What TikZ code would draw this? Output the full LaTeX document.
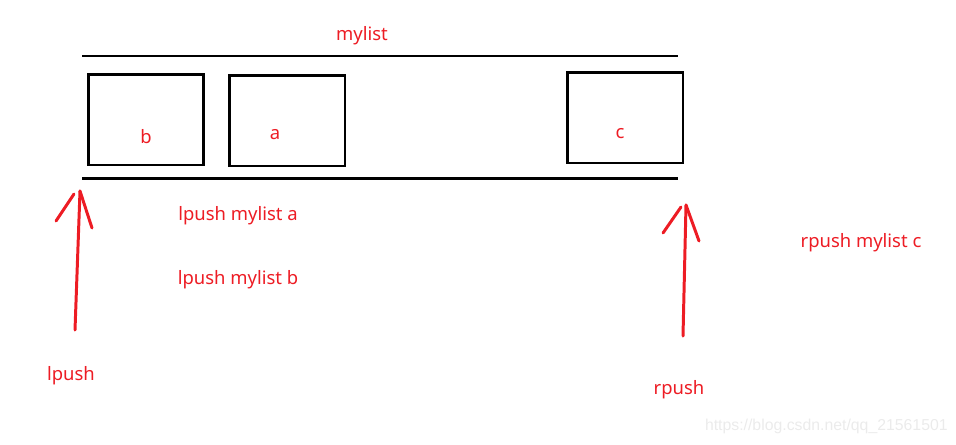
\documentclass[tikz,border=0pt]{standalone}
\usepackage{fontspec}
\setmainfont{Noto Sans}
\newfontfamily\markfont{Liberation Sans}
\usetikzlibrary{calc}
\definecolor{paintred}{RGB}{237,28,36}

\begin{document}
\begin{tikzpicture}[x=0.02cm,y=-0.02cm,
    txt/.style={text=paintred, font=\fontsize{10.5}{12}\selectfont, inner sep=0pt},
    cell/.style={draw=black, line width=1.7pt, minimum width=2.32cm, minimum height=1.82cm, inner sep=0pt},
    rail/.style={black, line width=1.7pt},
    pen/.style={paintred, line width=1.7pt, line cap=round}]
            \useasboundingbox (0,0) rectangle (956,444);

            % List title
            \node[txt] (title) at (362,36) {mylist};

            % Rails of the list
            \coordinate (topl) at (82,56);
            \coordinate (topr) at (678,56);
            \coordinate (botl) at (82,178);
            \coordinate (botr) at (678,178);
            \draw[rail] (topl) -- (topr);
            \draw[rail] (botl) -- (botr);

            % Elements
            \node[cell] (bbox) at (146,119.5) {};
            \node[cell] (abox) at (287,120.5) {};
            \node[cell] (cbox) at (625,117.5) {};
            \node[txt] (blbl) at ($(bbox.center)+(0,17)$) {b};
            \node[txt] (albl) at ($(abox.center)+(-12,14)$) {a};
            \node[txt] (clbl) at ($(cbox.center)+(-5,16)$) {c};

            % Commands
            \node[txt] (cmda) at (238,216) {lpush mylist a};
            \node[txt] (cmdb) at (238,280) {lpush mylist b};
            \node[txt] (cmdc) at (861,243) {rpush mylist c};

            % Left push arrow
            \coordinate (ltail) at (75,330);
            \coordinate (ltip) at (80,191);
            \coordinate (lbarl) at (56,221);
            \coordinate (lbarlt) at (74,194);
            \coordinate (lbarr) at (92,228);
            \draw[pen] (ltail) -- (ltip);
            \draw[pen] (lbarl) -- (lbarlt);
            \draw[pen] (ltip) -- (lbarr);
            \node[txt] (lpush) at (71,376) {lpush};

            % Right push arrow
            \coordinate (rtail) at (683,336);
            \coordinate (rtip) at (686,205);
            \coordinate (rbarl) at (663,233);
            \coordinate (rbarlt) at (681,207);
            \coordinate (rbarr) at (699,241);
            \draw[pen] (rtail) -- (rtip);
            \draw[pen] (rbarl) -- (rbarlt);
            \draw[pen] (rtip) -- (rbarr);
            \node[txt] (rpush) at (679,390) {rpush};

            % Watermark
            \node[text=black!8, font=\markfont\fontsize{9}{11}\selectfont, inner sep=0pt, anchor=east] (mark) at (948,426) {https://blog.csdn.net/qq\_21561501};
\end{tikzpicture}
\end{document}
